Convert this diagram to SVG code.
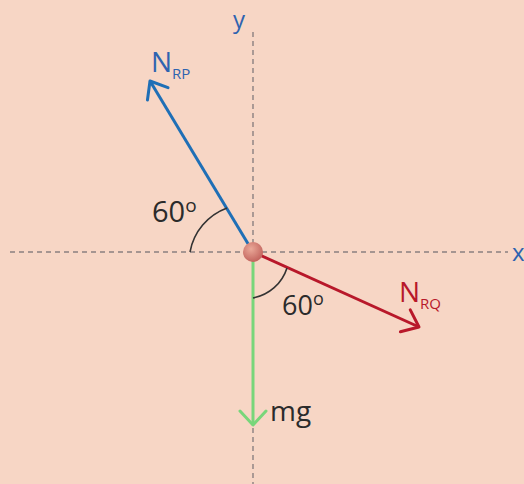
<svg xmlns="http://www.w3.org/2000/svg" width="524" height="484" viewBox="0 0 524 484">
<style>
.axis{stroke:#8a8080;stroke-width:1.4;stroke-dasharray:5 4;fill:none}
.lbl{font-family:"Open Sans","Liberation Sans",sans-serif;fill:#2b2b2b}
.ang{fill:none;stroke:#333;stroke-width:1.6}
</style>
<defs>
<marker id="ab" markerUnits="userSpaceOnUse" markerWidth="40" markerHeight="40" refX="0" refY="0" viewBox="-20 -20 40 40" orient="auto"><path d="M-15,-12 L0,0 L-15,12" fill="none" stroke="#1f6fb6" stroke-width="3" stroke-linecap="round" stroke-linejoin="round"/></marker>
<marker id="ar" markerUnits="userSpaceOnUse" markerWidth="40" markerHeight="40" refX="0" refY="0" viewBox="-20 -20 40 40" orient="auto"><path d="M-15,-12 L0,0 L-15,12" fill="none" stroke="#b8182a" stroke-width="3" stroke-linecap="round" stroke-linejoin="round"/></marker>
<marker id="ag" markerUnits="userSpaceOnUse" markerWidth="40" markerHeight="40" refX="0" refY="0" viewBox="-20 -20 40 40" orient="auto"><path d="M-14,-13 L0,0 L-14,13" fill="none" stroke="#78d67a" stroke-width="3" stroke-linecap="round" stroke-linejoin="round"/></marker>
<radialGradient id="ball" cx="0.4" cy="0.35" r="0.7"><stop offset="0" stop-color="#eaa898"/><stop offset="1" stop-color="#c0605a"/></radialGradient>
</defs>
<rect width="524" height="484" fill="#f7d6c5"/>
<g id="axes">
<line class="axis" x1="10" y1="252" x2="508" y2="252"/>
<line class="axis" x1="253" y1="32" x2="253" y2="484"/>
<text class="lbl" x="512" y="261" font-size="24" style="fill:#2e63b0">x</text>
<text class="lbl" x="233" y="28" font-size="24" style="fill:#2e63b0">y</text>
</g>
<g id="connectors">
<line x1="253" y1="252" x2="150" y2="81" stroke="#1f6fb6" stroke-width="3" marker-end="url(#ab)"/>
<line x1="253" y1="252" x2="419" y2="327" stroke="#b8182a" stroke-width="3" marker-end="url(#ar)"/>
<line x1="253" y1="252" x2="253" y2="425" stroke="#78d67a" stroke-width="3" marker-end="url(#ag)"/>
</g>
<g id="angles">
<path class="ang" d="M190,252 A58 58 0 0 1 227,208"/>
<path class="ang" d="M253,298 A44 44 0 0 0 287,268"/>
<text class="lbl" x="152" y="222" font-size="29">60<tspan font-size="19" dy="-10">o</tspan></text>
<text class="lbl" x="282" y="315" font-size="27">60<tspan font-size="18" dy="-10">o</tspan></text>
</g>
<g id="origin"><circle cx="253" cy="252" r="10" fill="url(#ball)"/></g>
<g id="NRP"><text class="lbl" x="151" y="72" font-size="28" style="fill:#2e63b0">N<tspan font-size="15" dy="7">RP</tspan></text></g>
<g id="NRQ"><text class="lbl" x="399" y="302" font-size="28" style="fill:#b8182a">N<tspan font-size="15" dy="7">RQ</tspan></text></g>
<g id="mg"><text class="lbl" x="270" y="421" font-size="28">mg</text></g>
</svg>
